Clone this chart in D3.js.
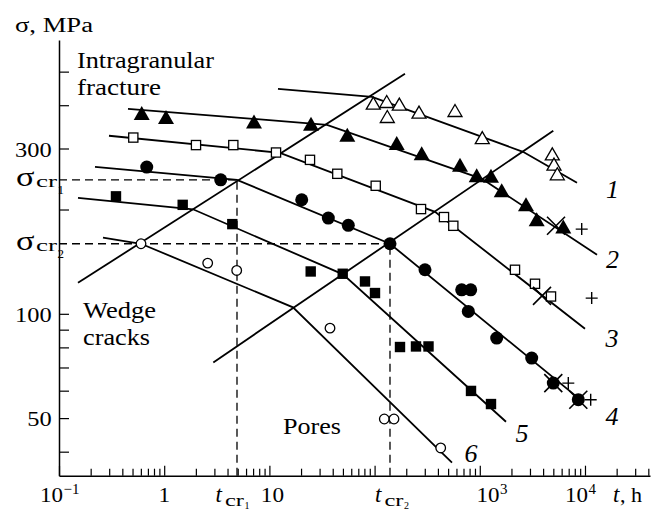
<!DOCTYPE html>
<html>
<head>
<meta charset="utf-8">
<script src="https://cdn.jsdelivr.net/npm/d3@7/dist/d3.min.js"></script>
<style>
  html, body { margin: 0; padding: 0; background: #fff; }
  svg { display: block; }
</style>
</head>
<body>
<svg id="chart" width="652" height="510"></svg>
<script>
// ---------------- DATA (t in hours, sigma in MPa) ----------------
const xMajorTicks = [0.1, 1, 10, 100, 1000, 10000];
const xTickLabels = [["10", "−1"], ["1", ""], ["10", ""], null, ["10", "3"], ["10", "4"]];
const yMajorTicks = [50, 100, 300];
const yTickLabels = ["50", "100", "300"];
const yMinorTicks = [40, 60, 70, 80, 90, 200, 400, 500];

const curveLabels = ["1", "2", "3", "4", "5", "6"];

// boundary lines
const boundaryA = [[0.1516, 122.9], [194.5, 492.8]];
const boundaryB = [[2.93, 72.4], [4996, 337.5]];

// fitted broken lines
const line1 = [[12.07, 446.0], [94.5, 423.0], [2575, 293.5], [8398, 238.9]];
const line2 = [[0.4529, 390.6], [35.29, 351.2], [1049.5, 245.2], [13010, 148.0]];
const line3 = [[0.2987, 326.5], [12.61, 291.5], [375.3, 197.0], [10005, 90.5]];
const line4 = [[0.2199, 265.6], [4.921, 243.6], [140.1, 159.3], [9575, 55.7]];
const line5 = [[0.1516, 216.2], [1.878, 200.3], [50.09, 130.0], [1775, 48.8]];
const line6 = [[0.262, 165.8], [0.6019, 159.3], [16.76, 104.4], [544.2, 37.2]];

// experimental points
const pts1 = [[97.2, 405.6], [130.4, 410.0], [171.8, 402.9], [132.1, 371.1], [264.4, 382.1],
  [581.3, 386.2], [1056, 322.6], [4890, 289.6], [5075, 270.4], [5457, 253.6]];
const pts2 = [[0.6113, 379.6], [1.040, 369.6], [7.14, 358.9], [24.86, 353.5], [55.03, 328.6],
  [162.3, 311.0], [280.4, 290.9], [648.5, 269.2], [934.5, 251.1], [1278, 250.2],
  [1616, 227.2], [2750, 207.1], [3475, 187.4], [6221, 178.6]];
const pts3 = [[0.5085, 322.6], [2.006, 306.9], [4.539, 306.9], [11.56, 292.1], [24.32, 278.2],
  [44.2, 253.6], [102.5, 234.2], [276.2, 200.6], [456.8, 190.2], [560.1, 179.5],
  [2161, 134.0], [3349, 122.1], [4753, 112.2]];
const pts4 = [[0.6823, 265.1], [3.444, 243.6], [20.29, 213.4], [36.31, 188.9], [56.25, 180.1],
  [140.1, 159.3], [301.4, 134.0], [673, 117.3], [819.7, 117.3], [777.7, 101.6],
  [1448, 85.1], [3116, 74.5], [4997, 63.1], [8641, 56.5]];
const pts5 = [[0.3481, 218.3], [1.499, 206.3], [4.441, 181.5], [24.7, 132.5], [49.77, 130.5],
  [81.07, 124.0], [100.9, 114.8], [174.4, 80.2], [247.5, 80.5], [325.5, 80.5],
  [825.2, 59.9], [1278, 54.9]];
const pts6 = [[0.6019, 159.3], [2.591, 140.1], [4.889, 133.4], [37.68, 90.9],
  [123.7, 49.7], [152.9, 49.7], [425.1, 41.0]];
const crossPts = [[5304, 179.5], [3903, 112.7], [4997, 63.1], [8641, 56.5]];
const plusPts = [[9307, 175.6], [11580, 111.0], [6941, 63.1], [11330, 56.5]];

// critical values
const tcr = [4.921, 140.1];
const sigmaCr = [243.6, 159.3];

// ---------------- DRAWING ----------------
const FONT = "'Liberation Serif', 'Times New Roman', Tinos, 'DejaVu Serif', serif";
const svg = d3.select("#chart");
const x = d3.scaleLog().domain([0.1, 41500]).range([59, 650]);
const y = d3.scaleLog().domain([34.1, 617]).range([475.7, 40]);
const x0 = 59, yB = 475.7;

// axes
const xMinor = [];
for (let e = -1; e <= 4; e++) for (let m = 2; m <= 9; m++) {
  const v = m * Math.pow(10, e);
  if (v <= 41000) xMinor.push(v);
}
const gx = svg.append("g").attr("transform", `translate(0,${yB})`);
gx.call(d3.axisBottom(x).tickValues(xMajorTicks).tickSizeInner(-10).tickSizeOuter(0).tickFormat(""));
gx.append("g").call(d3.axisBottom(x).tickValues(xMinor).tickSizeInner(-7).tickSizeOuter(0).tickFormat(""))
  .select(".domain").remove();
const gy = svg.append("g").attr("transform", `translate(${x0},0)`);
gy.call(d3.axisLeft(y).tickValues(yMajorTicks).tickSizeInner(-10).tickSizeOuter(0).tickFormat(""));
gy.append("g").call(d3.axisLeft(y).tickValues(yMinorTicks).tickSizeInner(-10).tickSizeOuter(0).tickFormat(""))
  .select(".domain").remove();
svg.selectAll(".domain").attr("stroke", "#000").attr("stroke-width", 1.5);
svg.selectAll(".tick line").attr("stroke", "#000").attr("stroke-width", 1.2);

// dashed critical lines
const dash = svg.append("g").attr("stroke", "#000").attr("stroke-width", 1.3)
  .attr("stroke-dasharray", "8,5").attr("fill", "none");
tcr.forEach((t, i) => {
  dash.append("line").attr("x1", x0).attr("x2", x(t)).attr("y1", y(sigmaCr[i])).attr("y2", y(sigmaCr[i]));
  dash.append("line").attr("x1", x(t)).attr("x2", x(t)).attr("y1", yB).attr("y2", y(sigmaCr[i]));
});

// lines
const lineGen = d3.line().x(d => x(d[0])).y(d => y(d[1]));
[boundaryA, boundaryB, line1, line2, line3, line4, line5, line6].forEach(l => {
  svg.append("path").attr("d", lineGen(l)).attr("fill", "none")
    .attr("stroke", "#000").attr("stroke-width", 1.8);
});

// markers
const mk = svg.append("g");
function tri(w, h) { return `M0,${-h / 2}L${w / 2},${h / 2}L${-w / 2},${h / 2}Z`; }
mk.selectAll(".p1").data(pts1).join("path").attr("class", "p1")
  .attr("transform", d => `translate(${x(d[0])},${y(d[1])})`)
  .attr("d", tri(14, 12)).attr("fill", "#fff").attr("stroke", "#000").attr("stroke-width", 1.3);
mk.selectAll(".p2").data(pts2).join("path").attr("class", "p2")
  .attr("transform", d => `translate(${x(d[0])},${y(d[1])})`)
  .attr("d", tri(16, 14)).attr("fill", "#000");
mk.selectAll(".p3").data(pts3).join("rect").attr("class", "p3")
  .attr("x", d => x(d[0]) - 4.6).attr("y", d => y(d[1]) - 4.6).attr("width", 9.2).attr("height", 9.2)
  .attr("fill", "#fff").attr("stroke", "#000").attr("stroke-width", 1.3);
mk.selectAll(".p4").data(pts4).join("circle").attr("class", "p4")
  .attr("cx", d => x(d[0])).attr("cy", d => y(d[1])).attr("r", 6.5).attr("fill", "#000");
mk.selectAll(".p5").data(pts5).join("rect").attr("class", "p5")
  .attr("x", d => x(d[0]) - 5.2).attr("y", d => y(d[1]) - 5.2).attr("width", 10.4).attr("height", 10.4)
  .attr("fill", "#000");
mk.selectAll(".p6").data(pts6).join("circle").attr("class", "p6")
  .attr("cx", d => x(d[0])).attr("cy", d => y(d[1])).attr("r", 4.8)
  .attr("fill", "#fff").attr("stroke", "#000").attr("stroke-width", 1.3);
mk.selectAll(".px").data(crossPts).join("path").attr("class", "px")
  .attr("transform", d => `translate(${x(d[0])},${y(d[1])})`)
  .attr("d", "M-9,-9L9,9M-9,9L9,-9").attr("stroke", "#000").attr("stroke-width", 1.6).attr("fill", "none");
mk.selectAll(".pp").data(plusPts).join("path").attr("class", "pp")
  .attr("transform", d => `translate(${x(d[0])},${y(d[1])})`)
  .attr("d", "M-6,0L6,0M0,-6L0,6").attr("stroke", "#000").attr("stroke-width", 1.4).attr("fill", "none");

// ---------------- TEXT ----------------
function txt(px, py, s, size, opts = {}) {
  const t = svg.append("text").attr("x", px).attr("y", py).attr("font-size", size)
    .attr("font-family", FONT).attr("fill", "#000").text(s);
  if (opts.anchor) t.attr("text-anchor", opts.anchor);
  if (opts.italic) t.attr("font-style", "italic");
  if (opts.len) t.attr("textLength", opts.len).attr("lengthAdjust", "spacingAndGlyphs");
  return t;
}
txt(15, 31.7, "σ, MPa", 20, { len: 78 });
txt(77, 68, "Intragranular", 22.5, { len: 137 });
txt(77, 95, "fracture", 22.5, { len: 84 });
txt(83, 318, "Wedge", 23, { len: 73 });
txt(83, 345, "cracks", 23, { len: 67 });
txt(283, 434, "Pores", 23, { len: 58 });

// y tick labels
yMajorTicks.forEach((v, i) => {
  const s = yTickLabels[i];
  txt(51.7, y(v) + 8, s, 22, { anchor: "end", len: s.length * 12.2 });
});
// sigma_cr labels
sigmaCr.forEach((v, i) => {
  const yy = y(v);
  txt(16, yy + 6.5, "σ", 27, { len: 18.5 });
  txt(36, yy + 7, "cr", 17, { len: 21 });
  txt(57.5, yy + 14, String(i + 1), 13);
});

// x tick labels
const xLabelOffsets = [-19, 0, 3, 0, -3.3, -20];
xMajorTicks.forEach((v, i) => {
  const lab = xTickLabels[i];
  if (!lab) return;
  if (lab[1] === "") {
    txt(x(v) + xLabelOffsets[i], 502, lab[0], 22, { anchor: "middle", len: lab[0].length * 11.6 });
  } else {
    const left = x(v) + xLabelOffsets[i];
    txt(left, 502, lab[0], 22, { len: 23 });
    txt(left + 23.5, 494, lab[1], 15);
  }
});
// t_cr labels
tcr.forEach((t, i) => {
  const cx = x(t);
  const left = i === 0 ? cx - 21.5 : cx - 15;
  txt(left, 502, "t", 23, { italic: true });
  txt(left + 9.5, 505.5, "cr", 16, { len: 19 });
  txt(left + 29, 509, String(i + 1), 10);
});
// axis title x
txt(613, 502, "t", 23, { italic: true });
txt(620, 502, ", h", 22);

// curve numbers
const curveLabelPos = [[612.5, 198], [612.5, 268], [612, 347], [612, 425], [522, 442], [471, 462]];
curveLabels.forEach((s, i) => {
  txt(curveLabelPos[i][0], curveLabelPos[i][1], s, 26, { anchor: "middle", italic: true });
});
</script>
</body>
</html>
